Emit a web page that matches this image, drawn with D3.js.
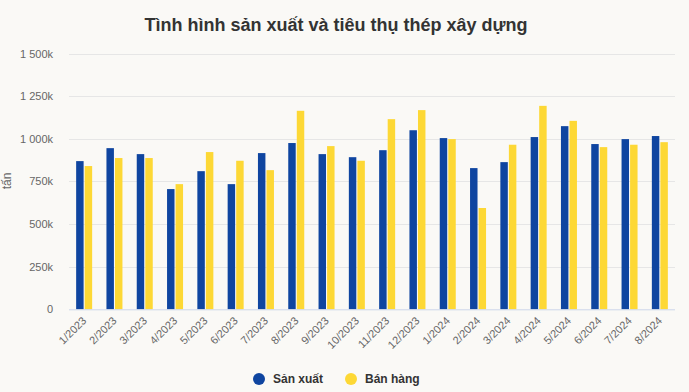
<!DOCTYPE html>
<html><head><meta charset="utf-8">
<script src="https://cdn.jsdelivr.net/npm/d3@7/dist/d3.min.js"></script>
<style>
html,body{margin:0;padding:0;background:#faf9f6;}
svg{display:block;font-family:"Liberation Sans",Arial,sans-serif;}
</style></head>
<body>
<svg id="chart" width="689" height="392"></svg>
<script>
const categories = ["1/2023","2/2023","3/2023","4/2023","5/2023","6/2023","7/2023","8/2023","9/2023","10/2023","11/2023","12/2023","1/2024","2/2024","3/2024","4/2024","5/2024","6/2024","7/2024","8/2024"];
const sanXuat = [869,945,910,705,810,734,916,975,910,892,933,1050,1004,828,863,1010,1074,969,998,1016];
const banHang = [840,887,887,734,922,871,816,1164,957,871,1115,1168,998,594,965,1193,1105,951,965,980];
const yTicks = [0,250,500,750,1000,1250,1500];
const seriesNames = ["Sản xuất","Bán hàng"];
const seriesColors = ["#0f45a0","#fdd835"];
const chartTitle = "Tình hình sản xuất và tiêu thụ thép xây dựng";
const yTitle = "tấn";

const svg = d3.select("#chart");
svg.append("rect").attr("width",689).attr("height",392).attr("fill","#faf9f6");
const mLeft = 69, mRight = 675, mTop = 53.5, mBottom = 309.3;

const x = d3.scaleBand().domain(categories).range([mLeft,mRight]).paddingInner(0).paddingOuter(0);
const xs = d3.scaleBand().domain([0,1]).range([0,16]).paddingInner(0.125);
const y = d3.scaleLinear().domain([0,1500]).range([mBottom,mTop]);

const fmt = v => v === 0 ? "0" : d3.format(",")(v).replace(/,/g," ") + "k";

// grid
svg.append("g").selectAll("line").data(yTicks.filter(d=>d>0)).join("line")
  .attr("x1",mLeft).attr("x2",mRight)
  .attr("y1",d=>Math.round(y(d))+0.5).attr("y2",d=>Math.round(y(d))+0.5)
  .attr("stroke","#e6e6e6").attr("stroke-width",1);

// y axis labels
const yAxis = d3.axisLeft(y).tickValues(yTicks).tickFormat(fmt).tickSize(0).tickPadding(0);
const yg = svg.append("g").attr("transform",`translate(${mLeft-16},0)`).call(yAxis);
yg.select(".domain").remove();
yg.selectAll("text").attr("fill","#666").attr("font-size","11px").attr("dy","0.32em");

// y title
svg.append("text").attr("transform","translate(11,181) rotate(-90)")
  .attr("text-anchor","middle").attr("fill","#666").attr("font-size","12px").text(yTitle);

// bars
const data = categories.map((c,i)=>({c, vals:[sanXuat[i],banHang[i]]}));
const groups = svg.append("g").selectAll("g").data(data).join("g")
  .attr("transform",d=>`translate(${x(d.c)+x.bandwidth()/2-8},0)`);
groups.selectAll("rect").data(d=>d.vals.map((v,k)=>({v,k}))).join("rect")
  .attr("x",d=>xs(d.k)).attr("width",xs.bandwidth())
  .attr("y",d=>y(d.v)).attr("height",d=>mBottom-y(d.v))
  .attr("fill",d=>seriesColors[d.k]);

// x axis
const xAxis = d3.axisBottom(x).tickSize(0).tickPadding(0);
const xg = svg.append("g").attr("transform",`translate(0,${mBottom})`).call(xAxis);
xg.select(".domain").attr("stroke","#ccd6eb").attr("d",`M${mLeft},0.5H${mRight}`);
xg.selectAll("text").attr("fill","#666").attr("font-size","11px")
  .attr("text-anchor","end").attr("dy",null).attr("y",0)
  .attr("transform","translate(3,12) rotate(-45)");

// title
svg.append("text").attr("x",336).attr("y",31).attr("text-anchor","middle")
  .attr("font-size","18px").attr("font-weight","bold").attr("fill","#333").text(chartTitle);

// legend
const legX = [259,351];
const lg = svg.append("g").selectAll("g").data(seriesNames).join("g")
  .attr("transform",(d,i)=>`translate(${legX[i]},379)`);
lg.append("circle").attr("r",6).attr("fill",(d,i)=>seriesColors[i]);
lg.append("text").attr("x",14).attr("dy","0.35em").attr("font-size","12px")
  .attr("font-weight","bold").attr("fill","#333").text(d=>d);
</script>
</body></html>
